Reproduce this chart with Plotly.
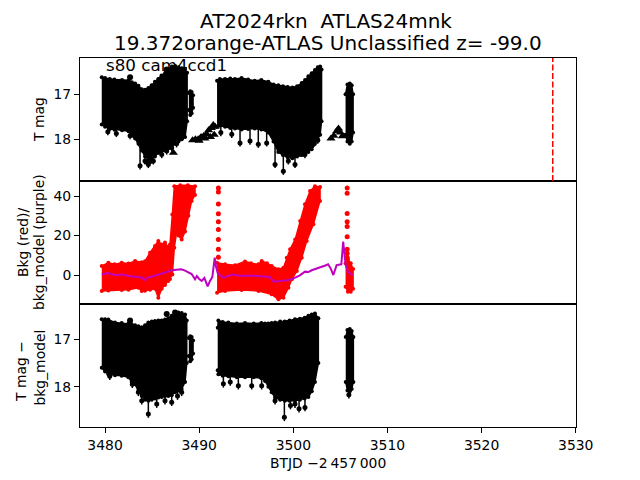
import plotly.graph_objects as go
from plotly.subplots import make_subplots

FONT = "DejaVu Sans"

# ---------------- Panel 1: T mag (envelopes of the dense light curve) ----------------
p1_c1_t = [3479.65, 3480.0, 3480.5, 3481.0, 3481.8, 3482.5, 3482.85, 3483.2, 3483.55, 3483.9, 3484.25, 3484.6,
           3484.95, 3485.3, 3485.65, 3486.0, 3486.4, 3486.75, 3487.1, 3487.45, 3487.8, 3488.15, 3488.5, 3488.72]
p1_c1_up = [16.62, 16.64, 16.66, 16.67, 16.68, 16.69, 16.73, 16.76, 16.81, 16.89, 16.90, 16.86,
            16.80, 16.72, 16.66, 16.58, 16.52, 16.45, 16.38, 16.37, 16.40, 16.42, 16.44, 16.52]
p1_c1_lo = [17.67, 17.72, 17.77, 17.79, 17.80, 17.82, 17.92, 17.98, 18.10, 18.25, 18.38, 18.42,
            18.45, 18.38, 18.30, 18.27, 18.25, 18.20, 18.15, 18.10, 18.05, 18.00, 17.95, 17.60]

seg_t = [3488.9, 3489.05, 3489.2, 3489.35]
seg_up = [16.97, 16.93, 16.95, 17.02]
seg_lo = [17.35, 17.46, 17.42, 17.30]

p1_c2_t = [3491.9, 3492.2, 3492.75, 3493.3, 3493.8, 3494.5, 3495.2, 3495.9, 3496.6, 3497.35, 3497.9, 3498.4,
           3498.9, 3499.4, 3499.9, 3500.4, 3500.9, 3501.25, 3501.6, 3501.95, 3502.3, 3502.6, 3502.85, 3503.0]
p1_c2_up = [16.70, 16.66, 16.66, 16.65, 16.66, 16.64, 16.67, 16.70, 16.68, 16.72, 16.78, 16.80,
            16.82, 16.84, 16.85, 16.82, 16.75, 16.68, 16.60, 16.53, 16.46, 16.40, 16.38, 16.45]
p1_c2_lo = [17.72, 17.70, 17.72, 17.75, 17.76, 17.78, 17.77, 17.76, 17.78, 17.85, 18.05, 18.28,
            18.35, 18.40, 18.42, 18.38, 18.35, 18.32, 18.28, 18.22, 18.10, 18.00, 17.90, 17.60]

p1_c3_t = [3505.55, 3505.75, 3506.0, 3506.2, 3506.35]
p1_c3_up = [17.00, 16.78, 16.76, 16.80, 17.00]
p1_c3_lo = [17.90, 18.05, 18.10, 18.05, 17.85]

# error-bar spikes hanging below the band: dot position, bar down to the tip, bar up into the band
p1_spike_t = [3480.3, 3481.2, 3482.66, 3483.37, 3483.72, 3484.25, 3484.6, 3485.13, 3485.66, 3486.02, 3486.55,
              3487.08, 3487.6, 3488.14, 3492.3, 3493.46, 3494.34, 3495.4, 3496.28, 3497.17, 3498.06, 3498.94,
              3499.47, 3500.18, 3501.24, 3502.13, 3502.6]
p1_spike_mag = [17.83, 17.87, 17.92, 17.96, 18.59, 18.48, 18.56, 18.48, 18.26, 18.34, 18.26,
                18.19, 18.10, 17.96, 17.85, 17.89, 18.08, 18.04, 18.11, 18.08, 18.56, 18.71,
                18.48, 18.56, 18.34, 18.11, 18.02]
p1_spike_dn = [0.08] * len(p1_spike_t)
p1_spike_upbar = [0.5] * len(p1_spike_t)

p1_dot_t = [3482.66, 3486.55]
p1_dot_mag = [16.62, 16.45]

p1_tri_t = [3489.3, 3489.6, 3489.9, 3490.0, 3490.2, 3490.5, 3490.6, 3490.8, 3491.0, 3491.2, 3491.3, 3491.5,
            3491.6, 3491.7, 3484.6, 3484.9, 3487.26, 3500.7, 3504.0, 3504.3, 3504.6, 3504.8, 3505.0, 3505.2]
p1_tri_mag = [18.02, 18.00, 18.00, 18.03, 17.95, 17.92, 17.98, 17.88, 17.80, 17.95, 17.75, 17.68,
              17.90, 17.72, 18.50, 18.45, 18.30, 18.34, 17.98, 17.92, 17.82, 17.76, 17.85, 17.93]

event_t = 3527.56

# ---------------- Panel 2: background (red) and background model (purple) ----------------
r1_up_t = [3479.65, 3480.35, 3481.0, 3481.77, 3482.5, 3483.19, 3483.9, 3484.25, 3484.78, 3485.31, 3485.66,
           3486.0, 3486.37, 3486.72, 3486.9, 3487.15, 3487.36, 3488.0, 3488.8, 3489.56]
r1_up = [4.6, 6.2, 5.5, 6.2, 5.8, 7.1, 6.5, 7.0, 11.3, 14.7, 17.2,
         15.5, 16.5, 14.0, 15.5, 30.7, 45.0, 45.5, 45.5, 45.0]
r1_lo_t = [3479.65, 3480.35, 3481.77, 3482.5, 3483.54, 3483.9, 3484.25, 3484.78, 3485.31, 3485.66, 3486.02,
           3486.37, 3486.72, 3486.9, 3487.15, 3487.36, 3487.61, 3487.8, 3488.14, 3488.5, 3488.85, 3489.2, 3489.56]
r1_lo = [-8.1, -7.8, -7.6, -7.5, -6.4, -8.1, -8.0, -7.5, -7.0, -11.5, -7.0,
         -5.0, -3.0, -2.0, 0.3, 13.8, 22.0, 20.0, 18.0, 22.0, 30.0, 37.5, 40.5]

r2_up_t = [3491.9, 3492.75, 3493.81, 3494.87, 3495.5, 3496.3, 3496.64, 3497.2, 3497.7, 3498.42, 3498.95,
           3499.3, 3499.66, 3500.2, 3500.73, 3501.24, 3501.78, 3502.3, 3502.84]
r2_up = [6.2, 5.4, 5.0, 6.9, 6.0, 5.4, 7.1, 6.0, 4.6, 2.9, 3.7,
         8.8, 13.0, 18.0, 27.3, 35.8, 42.5, 45.0, 44.5]
r2_lo_t = [3491.9, 3492.75, 3494.5, 3496.3, 3497.7, 3498.42, 3498.95, 3499.48, 3499.84, 3500.37, 3500.9,
           3501.42, 3502.13, 3502.84]
r2_lo = [-9.0, -8.1, -7.6, -8.1, -9.8, -12.3, -11.5, -6.4, -2.2, 2.0, 8.8,
         17.2, 25.7, 37.5]

r3_up_t = [3505.55, 3505.8, 3506.1, 3506.35]
r3_up = [6.0, 8.0, 6.0, 3.0]
r3_lo_t = [3505.55, 3505.8, 3506.1, 3506.35]
r3_lo = [-6.0, -8.5, -8.5, -7.0]

rcol1_t = [3492.04] * 9
rcol1_v = [44.0, 42.0, 36.0, 31.0, 27.0, 23.0, 18.0, 13.0, 9.0]
rcol2_t = [3505.72] * 9
rcol2_v = [44.0, 41.4, 31.2, 27.0, 24.5, 19.4, 13.0, 11.0, 9.0]

bm_t = [3479.65, 3480.3, 3481.06, 3481.8, 3482.5, 3483.2, 3483.9, 3484.2, 3484.5, 3485.2, 3486.0, 3486.6,
        3487.1, 3487.6, 3488.1, 3488.5, 3488.85, 3489.2, 3489.56, 3489.75, 3490.0, 3490.27, 3490.55, 3490.9,
        3491.15, 3491.4, 3491.65, 3491.8, 3492.0, 3492.6, 3493.5, 3494.5, 3495.4, 3496.3, 3497.0, 3497.5,
        3497.9, 3498.4, 3498.8, 3499.3, 3499.8, 3500.2, 3500.7, 3501.24, 3501.6, 3501.95, 3502.5, 3503.0,
        3503.4, 3503.7, 3504.0, 3504.25, 3504.6, 3505.1, 3505.3, 3505.56, 3505.8, 3506.0, 3506.3]
bm_v = [0.4, 1.0, 0.0, 0.2, -0.5, -0.8, -1.3, -2.6, -1.3, -0.5, 0.7, 1.5,
        2.4, 2.7, 2.9, 2.2, 1.2, 0.5, -2.2, -0.5, -2.0, -3.0, -1.5, -5.8,
        -3.0, -1.0, 8.8, 4.0, 0.5, -1.3, 0.3, -0.5, -0.2, -0.5, -0.8, -1.0,
        -3.4, -3.2, -3.0, -2.6, -2.2, -1.4, -0.2, 1.7, 1.5, 2.4, 3.2, 4.2,
        4.8, 5.4, 3.0, 0.0, 5.0, 5.4, 16.9, 5.0, 1.7, 0.8, 0.0]

# ---------------- Panel 3: T mag - bkg_model ----------------
p3_c1_t = [3479.65, 3480.0, 3480.35, 3481.06, 3481.77, 3482.48, 3482.83, 3483.19, 3483.54, 3483.9, 3484.25, 3484.6,
           3484.96, 3485.31, 3485.66, 3486.02, 3486.37, 3486.72, 3487.08, 3487.44, 3487.79, 3488.14, 3488.5, 3488.68]
p3_c1_up = [16.57, 16.57, 16.58, 16.64, 16.65, 16.66, 16.68, 16.70, 16.72, 16.74, 16.70, 16.64,
            16.62, 16.61, 16.60, 16.60, 16.58, 16.55, 16.50, 16.44, 16.43, 16.44, 16.47, 16.60]
p3_c1_lo = [17.60, 17.68, 17.74, 17.76, 17.77, 17.80, 17.90, 17.95, 18.10, 18.20, 18.28, 18.30,
            18.28, 18.25, 18.23, 18.22, 18.20, 18.20, 18.18, 18.12, 18.08, 18.05, 17.90, 17.50]

p3_c2_t = [3491.97, 3492.04, 3492.5, 3493.1, 3494.0, 3494.87, 3495.8, 3496.6, 3497.0, 3497.35, 3497.7,
           3498.06, 3498.6, 3499.1, 3499.6, 3500.18, 3500.7, 3501.2, 3501.6, 3501.96, 3502.3, 3502.66]
p3_c2_up = [16.75, 16.60, 16.63, 16.64, 16.66, 16.65, 16.66, 16.65, 16.66, 16.66, 16.65,
            16.64, 16.62, 16.62, 16.60, 16.57, 16.56, 16.54, 16.50, 16.47, 16.45, 16.55]
p3_c2_lo = [17.65, 17.74, 17.77, 17.78, 17.80, 17.80, 17.80, 17.82, 17.88, 18.00, 18.12,
            18.23, 18.28, 18.30, 18.30, 18.30, 18.28, 18.25, 18.22, 18.10, 17.90, 17.50]

p3_c3_t = [3505.57, 3505.75, 3506.0, 3506.2, 3506.38]
p3_c3_up = [16.95, 16.80, 16.78, 16.82, 16.95]
p3_c3_lo = [17.90, 18.08, 18.10, 18.05, 17.90]

p3_spike_t = [3480.5, 3482.9, 3483.54, 3483.9, 3484.6, 3485.49, 3486.37, 3487.08, 3487.7, 3488.14, 3492.57,
              3493.3, 3494.16, 3495.58, 3496.64, 3498.06, 3499.05, 3499.7, 3500.18, 3500.61, 3501.24, 3505.9]
p3_spike_mag = [17.78, 17.95, 18.12, 18.30, 18.58, 18.37, 18.30, 18.33, 18.20, 18.12, 17.94,
                17.90, 17.98, 17.98, 17.98, 18.30, 18.65, 18.40, 18.37, 18.47, 18.44, 18.17]
p3_spike_dn = [0.08] * len(p3_spike_t)
p3_spike_upbar = [0.5] * len(p3_spike_t)

p3_dot_t = [3482.66, 3486.55, 3487.44]
p3_dot_mag = [16.60, 16.46, 16.43]

x_ticks = [3480, 3490, 3500, 3510, 3520, 3530]


def poly(t_up, up, t_lo, lo):
    return list(t_up) + list(t_lo)[::-1], list(up) + list(lo)[::-1]


fig = make_subplots(rows=3, cols=1, shared_xaxes=True, vertical_spacing=0)


def add_band(t_up, up, t_lo, lo, row, color):
    xs, ys = poly(t_up, up, t_lo, lo)
    fig.add_trace(go.Scatter(x=xs, y=ys, mode="lines+markers", fill="toself", fillcolor=color,
                             line=dict(color=color, width=1.5), marker=dict(color=color, size=4),
                             hoverinfo="skip"), row=row, col=1)


def add_spikes(tt, mm, dn, upb, row):
    fig.add_trace(go.Scatter(x=tt, y=mm, mode="markers", marker=dict(color="black", size=5),
                             error_y=dict(type="data", symmetric=False, array=dn, arrayminus=upb,
                                          visible=True, thickness=1.5, width=0, color="black")),
                  row=row, col=1)


# panel 1
for tt, uu, ll in [(p1_c1_t, p1_c1_up, p1_c1_lo), (seg_t, seg_up, seg_lo),
                   (p1_c2_t, p1_c2_up, p1_c2_lo), (p1_c3_t, p1_c3_up, p1_c3_lo)]:
    add_band(tt, uu, tt, ll, 1, "black")
add_spikes(p1_spike_t, p1_spike_mag, p1_spike_dn, p1_spike_upbar, 1)
fig.add_trace(go.Scatter(x=p1_dot_t, y=p1_dot_mag, mode="markers", marker=dict(color="black", size=6)),
              row=1, col=1)
fig.add_trace(go.Scatter(x=p1_tri_t, y=p1_tri_mag, mode="markers",
                         marker=dict(color="black", size=8, symbol="triangle-up")), row=1, col=1)

# panel 2
add_band(r1_up_t, r1_up, r1_lo_t, r1_lo, 2, "red")
add_band(r2_up_t, r2_up, r2_lo_t, r2_lo, 2, "red")
add_band(r3_up_t, r3_up, r3_lo_t, r3_lo, 2, "red")
fig.add_trace(go.Scatter(x=rcol1_t + rcol2_t, y=rcol1_v + rcol2_v, mode="markers",
                         marker=dict(color="red", size=5)), row=2, col=1)
fig.add_trace(go.Scatter(x=bm_t, y=bm_v, mode="lines", line=dict(color="#bf00bf", width=2)), row=2, col=1)

# panel 3
for tt, uu, ll in [(p3_c1_t, p3_c1_up, p3_c1_lo), (seg_t, seg_up, seg_lo),
                   (p3_c2_t, p3_c2_up, p3_c2_lo), (p3_c3_t, p3_c3_up, p3_c3_lo)]:
    add_band(tt, uu, tt, ll, 3, "black")
add_spikes(p3_spike_t, p3_spike_mag, p3_spike_dn, p3_spike_upbar, 3)
fig.add_trace(go.Scatter(x=p3_dot_t, y=p3_dot_mag, mode="markers", marker=dict(color="black", size=6)),
              row=3, col=1)

# event line
fig.add_shape(type="line", x0=event_t, x1=event_t, xref="x", yref="y domain", y0=0, y1=1,
              line=dict(color="red", width=1.5, dash="6px,2.5px"))

axis_common = dict(showline=True, linecolor="black", linewidth=1, mirror=True, showgrid=False, zeroline=False,
                   ticks="outside", ticklen=5, tickwidth=1, tickcolor="black",
                   tickfont=dict(family=FONT, size=13.9, color="black"))

for i in (1, 2, 3):
    fig.update_xaxes(range=[3477.34, 3530.03], row=i, col=1, **axis_common)
fig.update_xaxes(showticklabels=False, ticks="", row=1, col=1)
fig.update_xaxes(showticklabels=False, ticks="", row=2, col=1)
fig.update_xaxes(tickvals=x_ticks, ticktext=[str(v) for v in x_ticks], row=3, col=1)

fig.update_yaxes(range=[18.927, 16.193], tickvals=[17, 18], row=1, col=1, **axis_common)
fig.update_yaxes(range=[-14.68, 47.6], tickvals=[0, 20, 40], row=2, col=1, **axis_common)
fig.update_yaxes(range=[18.855, 16.249], tickvals=[17, 18], row=3, col=1, **axis_common)

PH = 369.0


def ypap(py):
    return (427.0 - py) / PH


def xpap(px):
    return (px - 80.0) / 496.0


annos = [
    dict(text="AT2024rkn  ATLAS24mnk", x=xpap(326), y=ypap(21), size=20, angle=0),
    dict(text="19.372orange-ATLAS Unclassified z= -99.0", x=xpap(328), y=ypap(43), size=20, angle=0),
    dict(text="T mag", x=xpap(39), y=ypap(120), size=13.9, angle=-90),
    dict(text="Bkg (red)/", x=xpap(22.5), y=ypap(242.5), size=13.9, angle=-90),
    dict(text="bkg_model (purple)", x=xpap(38.5), y=ypap(242.5), size=13.9, angle=-90),
    dict(text="T mag \u2212", x=xpap(21), y=ypap(372), size=13.9, angle=-90),
    dict(text="bkg_model", x=xpap(39), y=ypap(367.5), size=13.9, angle=-90),
    dict(text="BTJD \u22122\u2009457\u2009000", x=xpap(327.5), y=ypap(463), size=13.9, angle=0),
]
for a in annos:
    fig.add_annotation(text=a["text"], x=a["x"], y=a["y"], xref="paper", yref="paper",
                       xanchor="center", yanchor="middle", showarrow=False, textangle=a["angle"],
                       font=dict(family=FONT, size=a["size"], color="black"))

fig.add_annotation(text="s80 cam4ccd1", x=xpap(103.5), y=ypap(64.5), xref="paper", yref="paper",
                   xanchor="left", yanchor="middle", showarrow=False,
                   font=dict(family=FONT, size=16.7, color="black"))

fig.update_layout(width=640, height=480, margin=dict(l=80, r=64, t=58, b=53),
                  paper_bgcolor="white", plot_bgcolor="white", showlegend=False,
                  font=dict(family=FONT, color="black"))

fig.write_html("out.html")
